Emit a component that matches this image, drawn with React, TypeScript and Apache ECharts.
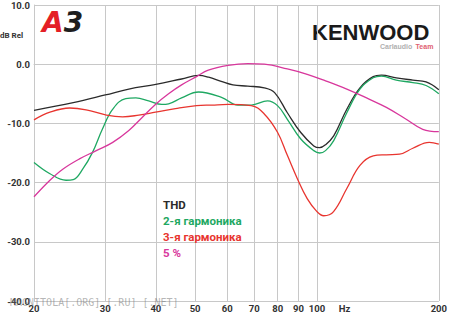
import React, { useEffect, useRef } from "react";
import * as echarts from "echarts";

const SERIES_NAMES = ["THD", "2-я гармоника", "3-я гармоника", "5 %"];
const SERIES_COLORS = ["#2b2b2b", "#1fa862", "#e8352f", "#d8379c"];

const X_TICK_FREQS = [20, 30, 40, 50, 60, 70, 80, 90, 100, 200];
const X_UNIT_FREQ = 117; // where the "Hz" label sits
const Y_MIN = -40;
const Y_MAX = 10;
const Y_STEP = 10;

const thdFreq = [20, 25, 30, 34.3, 40, 46.3, 51, 54, 58, 62, 67.5, 74.1, 78.6, 84.5, 91.1, 98.2, 101.5, 105, 110, 118.5, 127.7, 137.7, 144.3, 157, 172.5, 186, 200];
const thdDb = [-7.8, -6.5, -5.2, -4.2, -3.4, -2.5, -1.9, -2.2, -2.9, -3.5, -3.7, -4.0, -4.8, -8.2, -11.5, -13.8, -14.1, -13.6, -12.1, -7.6, -4.0, -2.1, -1.85, -2.3, -2.7, -3.0, -4.3];

const h2Freq = [20, 21.9, 24, 25, 26.4, 27.9, 29.5, 31.3, 33.7, 35.7, 38.4, 41.4, 43, 46.3, 51, 58.1, 63.8, 68.8, 75.5, 79.9, 84.5, 91.1, 98.2, 101.5, 105, 110, 118.5, 127.7, 137.7, 144.3, 157, 172.5, 186, 200];
const h2Db = [-16.6, -18.5, -19.6, -19.5, -17.7, -14.9, -11.0, -7.6, -5.8, -5.7, -6.2, -6.8, -6.7, -5.7, -4.7, -5.6, -6.9, -6.9, -6.2, -7.0, -9.3, -12.6, -14.6, -15.0, -14.6, -12.9, -8.2, -4.2, -2.3, -2.0, -2.7, -3.1, -3.6, -5.0];

const h3Freq = [20, 21.9, 24.5, 26.9, 30.2, 33.1, 36.3, 39.9, 44.7, 50.4, 55, 60.3, 68.8, 74.1, 79.9, 84.5, 89.4, 94.6, 100, 103.9, 109.9, 118.5, 127.7, 137.7, 148.4, 160, 172.5, 189.4, 200];
const h3Db = [-9.4, -8.1, -7.4, -7.7, -8.6, -8.9, -8.6, -8.1, -7.5, -7.0, -6.9, -6.8, -7.0, -8.4, -11.5, -15.4, -19.3, -22.7, -24.9, -25.6, -24.9, -21.0, -17.1, -15.5, -15.3, -15.2, -14.2, -13.2, -13.5];

const p5Freq = [20, 21.9, 23.6, 25.9, 28.5, 31.3, 34.3, 37, 39.9, 43, 46.3, 50.4, 53.9, 60.3, 67.5, 74.1, 84.5, 94.6, 104, 118.5, 132.6, 148.4, 166.1, 182.5, 200];
const p5Db = [-22.4, -19.6, -17.7, -16.0, -14.6, -13.2, -11.2, -9.0, -6.8, -5.0, -3.5, -2.1, -1.0, -0.2, 0.1, 0.0, -0.8, -1.7, -2.7, -4.2, -5.7, -7.3, -9.3, -11.0, -11.4];

const SERIES_DATA = [
  [thdFreq, thdDb],
  [h2Freq, h2Db],
  [h3Freq, h3Db],
  [p5Freq, p5Db],
];

const AXIS_FONT = "Roboto";

export default function App() {
  const ref = useRef<HTMLDivElement>(null);

  useEffect(() => {
    if (!ref.current) return;
    const chart = echarts.init(ref.current, undefined, { renderer: "svg" });
    const lg = Math.log10;

    const series = SERIES_DATA.map(([fs, ds], i) => ({
      type: "line",
      name: SERIES_NAMES[i],
      data: fs.map((f, j) => [lg(f), ds[j]]),
      showSymbol: false,
      smooth: 0.4,
      lineStyle: { color: SERIES_COLORS[i], width: 1.3 },
      itemStyle: { color: SERIES_COLORS[i] },
      z: 3,
    }));

    chart.setOption({
      animation: false,
      backgroundColor: "#ffffff",
      grid: { left: 34, right: 7, top: 4, bottom: 11, containLabel: false },
      xAxis: {
        type: "value",
        min: lg(20),
        max: lg(200),
        axisLine: { show: true, lineStyle: { color: "#c8c8c8", width: 1 } },
        axisTick: { show: false, customValues: X_TICK_FREQS.map(lg) },
        splitLine: { show: true, lineStyle: { color: "#c8c8c8", width: 1 } },
        axisLabel: {
          customValues: [...X_TICK_FREQS, X_UNIT_FREQ].map(lg),
          formatter: (v: number) => {
            const f = Math.pow(10, v);
            if (Math.abs(f - X_UNIT_FREQ) < 0.5) return "Hz";
            return String(Math.round(f));
          },
          color: "#333",
          fontSize: 9.5,
          fontWeight: "bold",
          fontFamily: AXIS_FONT,
          margin: 2,
        },
      },
      yAxis: {
        type: "value",
        min: Y_MIN,
        max: Y_MAX,
        interval: Y_STEP,
        axisLine: { show: true, lineStyle: { color: "#c8c8c8", width: 1 } },
        axisTick: { show: false },
        splitLine: { show: true, lineStyle: { color: "#c8c8c8", width: 1 } },
        axisLabel: {
          formatter: (v: number) => v.toFixed(1),
          color: "#333",
          fontSize: 9.5,
          fontWeight: "bold",
          fontFamily: AXIS_FONT,
          margin: 4,
        },
      },
      legend: {
        orient: "vertical",
        left: 157,
        top: 198,
        padding: 0,
        itemWidth: 0,
        itemHeight: 0,
        itemGap: 3,
        selectedMode: false,
        textStyle: { fontSize: 11.5, fontWeight: "bold", fontFamily: AXIS_FONT, lineHeight: 13 },
        data: SERIES_NAMES.map((n, i) => ({ name: n, textStyle: { color: SERIES_COLORS[i] } })),
      },
      graphic: [
        {
          type: "text",
          left: 0,
          top: 31,
          style: { text: "dB Rel", fontSize: 8, fontWeight: "bold", fontFamily: AXIS_FONT, fill: "#333" },
        },
        {
          type: "text",
          left: 42,
          top: 8,
          style: {
            text: "{a|A}{b|3}",
            rich: {
              a: { fill: "#e41f26", fontSize: 28, fontWeight: 900, fontStyle: "italic", fontFamily: "DejaVu Sans" },
              b: { fill: "#1e1e1e", fontSize: 28, fontWeight: 900, fontStyle: "italic", fontFamily: "DejaVu Sans" },
            },
          },
        },
        {
          type: "text",
          left: 312,
          top: 21,
          style: { text: "KENWOOD", fontSize: 22, fontWeight: "bold", fontFamily: "Liberation Sans", fill: "#1a1a1a" },
        },
        {
          type: "text",
          left: 380,
          top: 40,
          style: {
            text: "{g|Carlaudio} {r|Team}",
            rich: {
              g: { fill: "#b0b0b0", fontSize: 7, fontWeight: "bold", fontFamily: "Liberation Sans" },
              r: { fill: "#e06070", fontSize: 7, fontWeight: "bold", fontFamily: "Liberation Sans" },
            },
          },
        },
        {
          type: "text",
          left: 10,
          top: 297,
          style: { text: "MAGNITOLA[.ORG] [.RU] [.NET]", fontSize: 10, fontFamily: "DejaVu Sans Mono", fill: "rgba(120,120,120,0.55)" },
          z: 10,
        },
      ],
      series,
    });

    return () => chart.dispose();
  }, []);

  return (
    <div
      ref={ref}
      style={{ position: "fixed", left: 0, top: 0, width: 450, height: 313, background: "#fff" }}
    />
  );
}
